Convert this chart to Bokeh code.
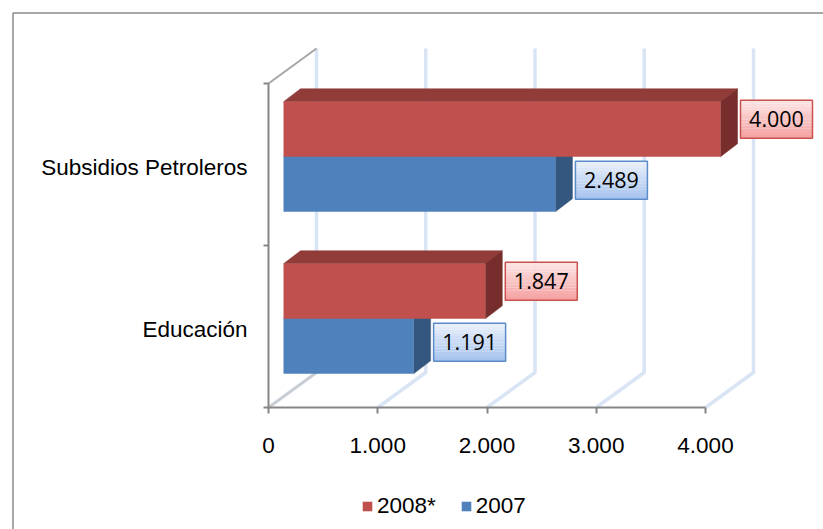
from bokeh.plotting import figure
from bokeh.models import (Range1d, LinearAxis, FixedTicker, Legend, LegendItem,
                          CustomJSTickFormatter)
from bokeh.core.properties import value
from bokeh.embed import file_html
from bokeh.resources import INLINE

# ---------------- data ----------------
categories = ["Educación", "Subsidios Petroleros"]
series_names = ["2008*", "2007"]
values_2008 = [1847, 4000]
values_2007 = [1191, 2489]
x_ticks = [0, 1000, 2000, 3000, 4000]
x_tick_labels = ["0", "1.000", "2.000", "3.000", "4.000"]

# ---------------- geometry / style ----------------
W, H = 823, 529
PXX = 437 / 4000.0      # px per value unit
PXY = 162.0             # px per category unit
ORIGIN_X = 268          # canvas px of value 0 on the front plane
BASE_Y = 407            # canvas px (from top) of the front floor edge
CAT_OFF = 0.48


def ux(px):
    return px / PXX


def uy(px):
    return px / PXY


y_floor = -CAT_OFF
y_wall_top = y_floor + len(categories)
x_rng = Range1d(-ux(ORIGIN_X), ux(W - ORIGIN_X))
y_rng = Range1d(y_floor - uy(H - BASE_Y), y_floor + uy(BASE_Y))

WDX, WDY = ux(48), uy(35)      # wall depth
FDX, FDY = ux(15), uy(11)      # bar front face offset
BDX, BDY = ux(32), uy(24)      # bar back face offset
BAR_H = uy(55)

RED, RED_TOP, RED_SIDE = "#c0504d", "#923c3a", "#772d2b"
BLUE, BLUE_TOP, BLUE_SIDE = "#4f81bd", "#3d6797", "#34577f"
GRID = "#d9e4f4"
AXIS = "#868686"

p = figure(width=W, height=H, x_range=x_rng, y_range=y_rng,
           output_backend="svg", toolbar_location=None,
           x_axis_type=None, y_axis_type=None, min_border=0)
p.outline_line_color = None
p.background_fill_color = "white"
p.border_fill_color = "white"

# outer chart border (left and top edges visible)
bx = x_rng.start + ux(12.5)
by = y_rng.end - uy(12.5)
p.line([bx, bx, x_rng.end + 1000], [y_rng.start - 1, by, by],
       line_color="#8c8c8c", line_width=1.5)

# back wall gridlines + floor diagonals
gx, gy = [], []
for t in x_ticks:
    gx.append([t, t + WDX, t + WDX])
    gy.append([y_floor, y_floor + WDY, y_wall_top + WDY])
p.multi_line(gx, gy, line_color=GRID, line_width=3.5)
# left wall edges
p.multi_line([[0, WDX], [0, WDX]],
             [[y_wall_top, y_wall_top + WDY], [y_floor, y_floor + WDY]],
             line_color=["#a6a6a6", "#c8c8c8"], line_width=2)


def draw_bars(vals, lower, front, top, side):
    bots = [i + (0 if not lower else -BAR_H) for i in range(len(vals))]
    tops = [b + BAR_H for b in bots]
    p.patches([[FDX, v + FDX, v + BDX, BDX] for v in vals],
              [[t + FDY, t + FDY, t + BDY, t + BDY] for t in tops],
              fill_color=top, line_color=top, line_width=0.5)
    p.patches([[v + FDX, v + BDX, v + BDX, v + FDX] for v in vals],
              [[b + FDY, b + BDY, t + BDY, t + FDY] for b, t in zip(bots, tops)],
              fill_color=side, line_color=side, line_width=0.5)
    r = p.quad(left=[FDX] * len(vals), right=[v + FDX for v in vals],
               bottom=[b + FDY for b in bots], top=[t + FDY for t in tops],
               fill_color=front, line_color=None)
    return r, bots, tops


blue_r, b_bots, b_tops = draw_bars(values_2007, True, BLUE, BLUE_TOP, BLUE_SIDE)
red_r, r_bots, r_tops = draw_bars(values_2008, False, RED, RED_TOP, RED_SIDE)


def hex2rgb(h):
    return tuple(int(h[i:i + 2], 16) for i in (1, 3, 5))


def mix(c1, c2, t):
    a, b = hex2rgb(c1), hex2rgb(c2)
    return "#%02x%02x%02x" % tuple(round(a[i] + (b[i] - a[i]) * t) for i in range(3))


def fmt(v):
    return f"{v:,}".replace(",", ".")


def draw_labels(vals, bots, tops, dy_px, c_top, c_bot, c_line):
    hw, hh = ux(36), uy(19)
    cx = [v + BDX + ux(3) + hw for v in vals]
    cy = [(b + t) / 2 + uy(dy_px) for b, t in zip(bots, tops)]
    n = 12
    L, R, B, T, C = [], [], [], [], []
    for x, y in zip(cx, cy):
        for k in range(n):
            top = y + hh - k * 2 * hh / n
            L.append(x - hw); R.append(x + hw)
            T.append(top); B.append(top - 2 * hh / n)
            C.append(mix(c_top, c_bot, k / (n - 1)))
    p.quad(left=L, right=R, bottom=B, top=T, fill_color=C, line_color=None)
    p.quad(left=[x - hw for x in cx], right=[x + hw for x in cx],
           bottom=[y - hh for y in cy], top=[y + hh for y in cy],
           fill_color=None, line_color=c_line, line_width=1.5)
    p.text(x=cx, y=cy, text=[fmt(v) for v in vals], text_align="center",
           text_baseline="middle", text_font=value("Open Sans"),
           text_font_size="21.5px", text_color="black")


draw_labels(values_2008, r_bots, r_tops, 21, "#fde2e2", "#f4a4a3", "#c9514e")
draw_labels(values_2007, b_bots, b_tops, 15, "#e8effb", "#a8c4ee", "#5b8bc9")

# axes
FONT = "Liberation Sans"
FSIZE = "22.5px"
xaxis = LinearAxis(fixed_location=y_floor, bounds=(0, 4000),
                   ticker=FixedTicker(ticks=x_ticks),
                   major_label_overrides=dict(zip(x_ticks, x_tick_labels)))
xaxis.axis_line_color = AXIS
xaxis.axis_line_width = 2
xaxis.major_tick_line_color = AXIS
xaxis.major_tick_line_width = 2
xaxis.major_tick_out = 6
xaxis.major_tick_in = 0
xaxis.minor_tick_line_color = None
xaxis.major_label_text_font = FONT
xaxis.major_label_text_font_size = FSIZE
xaxis.major_label_text_color = "black"
xaxis.major_label_standoff = 24
p.add_layout(xaxis, "below")

yaxis = LinearAxis(fixed_location=0, bounds=(y_floor, y_wall_top),
                   ticker=FixedTicker(ticks=[y_floor + i for i in range(len(categories) + 1)]),
                   formatter=CustomJSTickFormatter(code="return ''"))
yaxis.axis_line_color = AXIS
yaxis.axis_line_width = 2
yaxis.major_tick_line_color = AXIS
yaxis.major_tick_line_width = 2
yaxis.major_tick_out = 5
yaxis.major_tick_in = 0
yaxis.minor_tick_line_color = None
p.add_layout(yaxis, "left")

cat_pos = list(range(len(categories)))
ylab = LinearAxis(fixed_location=0, bounds=(y_floor, y_wall_top),
                  ticker=FixedTicker(ticks=cat_pos),
                  major_label_overrides=dict(zip(cat_pos, categories)))
ylab.axis_line_color = None
ylab.major_tick_line_color = None
ylab.major_tick_out = 0
ylab.major_tick_in = 0
ylab.minor_tick_line_color = None
ylab.major_label_text_font = FONT
ylab.major_label_text_font_size = FSIZE
ylab.major_label_text_color = "black"
ylab.major_label_standoff = 21
p.add_layout(ylab, "left")

legend = Legend(items=[LegendItem(label=series_names[0], renderers=[red_r]),
                       LegendItem(label=series_names[1], renderers=[blue_r])],
                orientation="horizontal", location=(361, 10))
legend.glyph_width = 12
legend.glyph_height = 12
legend.label_standoff = 4
legend.spacing = 24
legend.padding = 0
legend.margin = 0
legend.border_line_color = None
legend.background_fill_alpha = 0
legend.label_text_font = FONT
legend.label_text_font_size = FSIZE
legend.label_text_color = "black"
p.add_layout(legend, "center")

open("out.html", "w").write(file_html(p, INLINE))
